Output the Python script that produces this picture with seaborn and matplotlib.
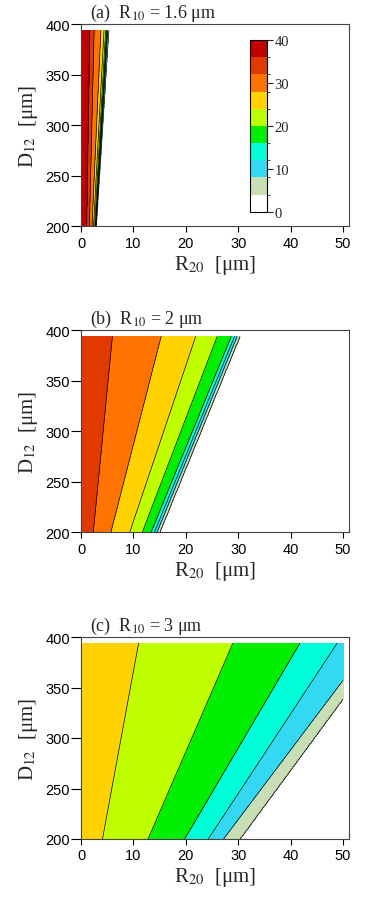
import numpy as np
import matplotlib
matplotlib.use("Agg")
import matplotlib.pyplot as plt
from matplotlib.colors import ListedColormap, BoundaryNorm
import seaborn as sns

sns.set_style("white")
plt.rcParams['font.family'] = ['Liberation Sans', 'DejaVu Sans']
plt.rcParams['mathtext.fontset'] = 'stix'

# ---- data ----
levels = [0, 4, 8, 12, 16, 20, 24, 28, 32, 36, 40]
band_colors = ['#ffffff', '#c8deb4', '#33d9f2', '#00ffd9', '#00ee00',
               '#bfff00', '#ffd200', '#ff7300', '#e03a00', '#c00000']
cbar_ticks = [0, 10, 20, 30, 40]
x_ticks = [0, 10, 20, 30, 40, 50]
y_ticks = [200, 250, 300, 350, 400]

titles = ['(a)  R$_{10}$ = 1.6 μm', '(b)  R$_{10}$ = 2 μm', '(c)  R$_{10}$ = 3 μm']

# contour level crossings (x in µm) at D12 = 200 (bottom) and D12 = 394 (top)
a_levels = [36, 32, 28, 24, 20, 16, 12, 8, 4]
a_bottom = [1.1, 1.6, 2.1, 2.4, 2.6, 2.75, 2.8, 2.85, 2.9]
a_top = [1.7, 2.5, 3.8, 4.4, 4.7, 4.9, 5.0, 5.1, 5.3]
a_left = 38

b_levels = [32, 28, 24, 20, 16, 12, 8, 4]
b_bottom = [2.35, 5.7, 9.3, 11.7, 13.4, 14.0, 14.5, 15.0]
b_top = [6.0, 15.3, 21.9, 26.0, 28.7, 29.3, 29.8, 30.3]
b_left = 34

c_levels = [24, 20, 16, 12, 8, 4]
c_bottom = [4.1, 12.8, 19.8, 24.3, 27.2, 30.3]
c_top = [11.0, 29.0, 41.8, 48.9, 55.4, 57.8]
c_left = 26

panels = [(a_levels, a_bottom, a_top, a_left),
          (b_levels, b_bottom, b_top, b_left),
          (c_levels, c_bottom, c_top, c_left)]

y_lo, y_hi = 200.0, 394.0
xg = np.linspace(0.3, 50.0, 800)
yg = np.linspace(y_lo, y_hi, 120)


def field(lv, bot, top, left):
    bot = np.asarray(bot, float)
    top = np.asarray(top, float)
    Z = np.empty((len(yg), len(xg)))
    for i, y in enumerate(yg):
        t = (y - y_lo) / (y_hi - y_lo)
        b = bot + t * (top - bot)
        Z[i] = np.interp(xg, np.concatenate([[0.0], b, [100.0]]),
                         np.concatenate([[left], lv, [0.0]]))
    return Z


cmap = ListedColormap(band_colors)
norm = BoundaryNorm(levels, cmap.N)

fig = plt.figure(figsize=(3.92, 9.04), dpi=100)
W, H = 392.0, 904.0
ax_left = 81 / W
ax_w = 268.3 / W
ax_h = 202.0 / H
bottoms_px = [227.3, 533.3, 840.0]

serif = ['Liberation Serif', 'DejaVu Serif']
mappable = None
for k, (lv, bot, top, left) in enumerate(panels):
    ax = fig.add_axes([ax_left, 1 - bottoms_px[k] / H, ax_w, ax_h])
    Z = field(lv, bot, top, left)
    cf = ax.contourf(xg, yg, Z, levels=levels, cmap=cmap, norm=norm)
    ax.contour(xg, yg, Z, levels=levels[1:-1], colors='black', linewidths=0.5)
    if k == 0:
        mappable = cf
    ax.set_xlim(0, 51.2)
    ax.set_ylim(200, 400)
    ax.set_xticks(x_ticks)
    ax.set_yticks(y_ticks)
    ax.tick_params(axis='both', direction='out', width=0.8,
                   labelsize=10.5, colors='black', bottom=True, left=True,
                   top=False, right=False)
    ax.tick_params(axis='x', length=4.3, pad=2.5)
    ax.tick_params(axis='y', length=7, pad=0.8)
    for s in ax.spines.values():
        s.set_linewidth(0.8)
        s.set_color('#444444')
    ax.set_xlabel('R$_{20}$  [μm]', family=serif, fontsize=15, labelpad=2)
    ax.set_ylabel('D$_{12}$  [μm]', family=serif, fontsize=15, labelpad=4)
    ax.text(0.035, 1.0 + 7.5 / 202.0, titles[k], transform=ax.transAxes,
            family=serif, fontsize=13, ha='left', va='baseline')

cax = fig.add_axes([250 / W, 1 - 212.7 / H, 16.7 / W, 171.7 / H])
cb = fig.colorbar(mappable, cax=cax, ticks=cbar_ticks)
cb.outline.set_linewidth(0.8)
cb.outline.set_edgecolor('black')
cax.tick_params(direction='out', length=4, width=0.8, labelsize=10.5, pad=1.5)
for lab in cax.get_yticklabels():
    lab.set_family(serif)

fig.savefig('out.png', dpi=100)
